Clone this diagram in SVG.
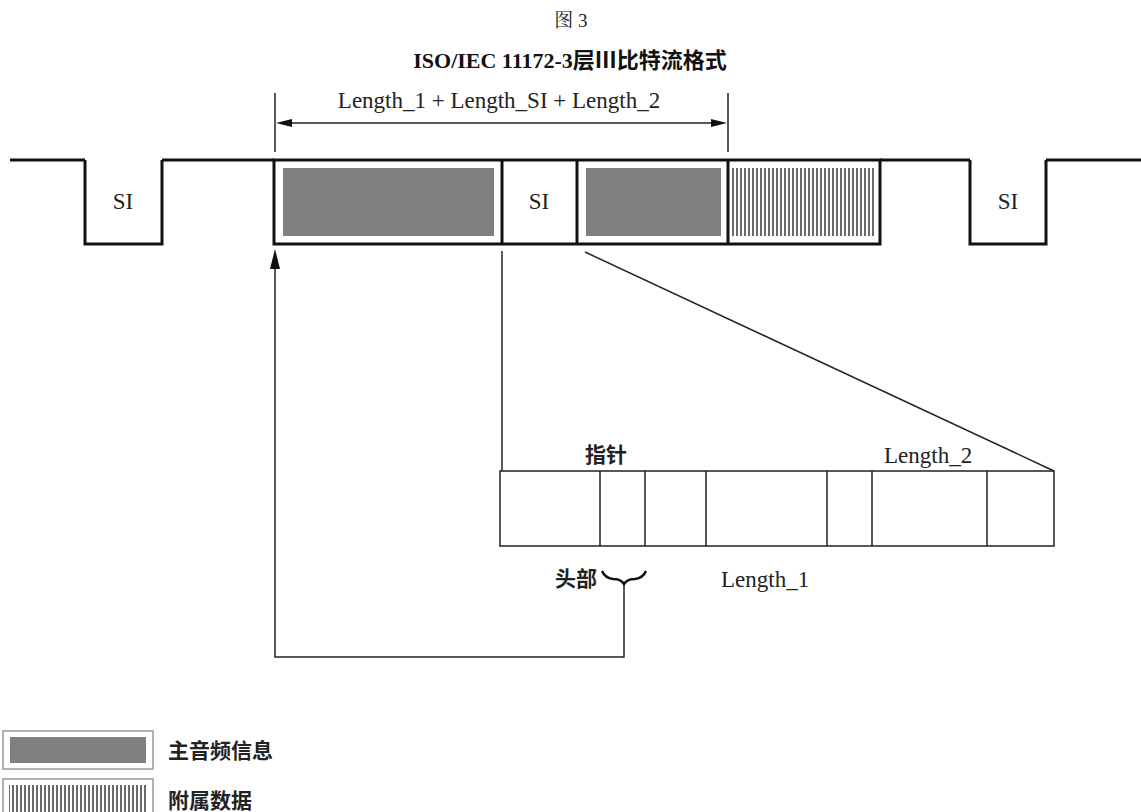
<svg xmlns="http://www.w3.org/2000/svg" width="1141" height="812" viewBox="0 0 1141 812">
<defs>
<style>
.thick{fill:none;stroke:#111;stroke-width:3}
.thin{fill:none;stroke:#222;stroke-width:1.5}
.gray{fill:#808080}
.lat{font-family:"Liberation Serif","Times New Roman",serif;font-size:23px;fill:#222}
.cjk{font-family:"Noto Sans CJK SC","Noto Sans",sans-serif;font-weight:bold;font-size:21px;fill:#222}
.song{font-family:"Liberation Serif","Noto Serif CJK SC","Noto Sans CJK SC",serif;font-size:19px;fill:#222}
</style>
<pattern id="stripes" width="4" height="10" patternUnits="userSpaceOnUse">
<rect x="0" y="0" width="2" height="10" fill="#6a6a6a"/>
</pattern>
</defs>
<rect width="1141" height="812" fill="#fff"/>

<g id="titles">
<text class="song" x="571" y="27" text-anchor="middle">图 3</text>
<text x="570" y="68" text-anchor="middle" style="font-family:'Liberation Serif','Noto Sans CJK SC',serif;font-weight:bold;font-size:22px;fill:#111">ISO/IEC 11172-3层Ⅲ比特流格式</text>
</g>

<g id="stream-line">
<path class="thick" d="M10,160 H85 M162,160 H274 M880,160 H970 M1046,160 H1141"/>
</g>

<g id="si-left">
<path class="thick" d="M85,160 V244 H162 V160"/>
<text class="lat" x="123" y="209" text-anchor="middle" font-size="20">SI</text>
</g>

<g id="frame">
<rect class="thick" x="274" y="160" width="606" height="84"/>
<line class="thick" x1="502" y1="160" x2="502" y2="244"/>
<line class="thick" x1="577" y1="160" x2="577" y2="244"/>
<line class="thick" x1="728" y1="160" x2="728" y2="244"/>
</g>
<g id="main-audio-1"><rect class="gray" x="283" y="168" width="211" height="68"/></g>
<g id="si-mid"><text class="lat" x="539" y="209" text-anchor="middle" font-size="20">SI</text></g>
<g id="main-audio-2"><rect class="gray" x="586" y="168" width="135" height="68"/></g>
<g id="ancillary"><rect fill="url(#stripes)" x="732" y="168" width="143" height="68"/></g>

<g id="si-right">
<path class="thick" d="M970,160 V244 H1046 V160"/>
<text class="lat" x="1008" y="209" text-anchor="middle" font-size="20">SI</text>
</g>

<g id="dimension">
<line class="thin" x1="275" y1="93" x2="275" y2="152"/>
<line class="thin" x1="728" y1="93" x2="728" y2="152"/>
<line class="thin" x1="290" y1="123" x2="713" y2="123"/>
<path d="M276,123 L292,119 L292,127 Z" fill="#111"/>
<path d="M727,123 L711,119 L711,127 Z" fill="#111"/>
<text class="lat" x="499" y="108" text-anchor="middle">Length_1 + Length_SI + Length_2</text>
</g>

<g id="detail">
<rect class="thin" x="500" y="471" width="554" height="75"/>
<path class="thin" d="M600,471 V546 M645,471 V546 M706,471 V546 M827,471 V546 M872,471 V546 M987,471 V546"/>
<text class="cjk" x="585" y="462">指针</text>
<text class="lat" x="884" y="463">Length_2</text>
<text class="cjk" x="555" y="586">头部</text>
<text class="lat" x="721" y="587">Length_1</text>
</g>

<g id="connectors">
<line class="thin" x1="502" y1="251" x2="502" y2="471"/>
<line class="thin" x1="585" y1="252" x2="1054" y2="471"/>
<path d="M602,571 Q605,578 613,579 Q621,579 624,584 Q627,579 635,579 Q643,578 646,571" fill="none" stroke="#111" stroke-width="2.5"/>
<path class="thin" d="M624,585 V657 H275 V268"/>
<path d="M275,249 L270,269 L280,269 Z" fill="#111"/>
</g>

<g id="legend-main">
<rect x="3" y="731" width="150" height="38" fill="#fff" stroke="#999" stroke-width="1.5"/>
<rect class="gray" x="10" y="737" width="136" height="26"/>
<text class="cjk" x="168" y="758" font-size="22">主音频信息</text>
</g>
<g id="legend-anc">
<rect x="3" y="779" width="150" height="38" fill="#fff" stroke="#999" stroke-width="1.5"/>
<rect fill="url(#stripes)" x="9" y="785" width="138" height="30"/>
<text class="cjk" x="168" y="808" font-size="22">附属数据</text>
</g>
</svg>
